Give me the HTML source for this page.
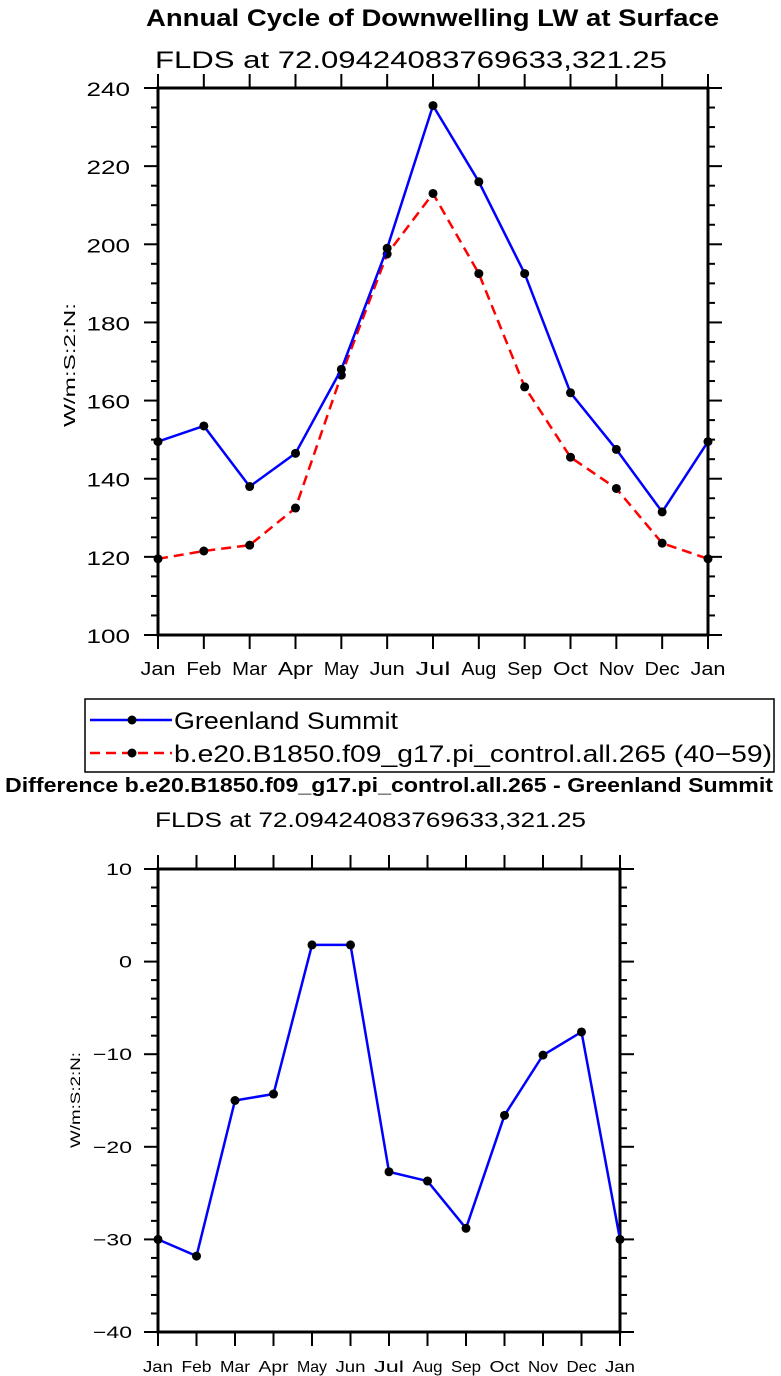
<!DOCTYPE html>
<html><head><meta charset="utf-8"><style>
body{margin:0;background:#fff;width:781px;height:1376px;overflow:hidden;font-family:"Liberation Sans",sans-serif}
svg{display:block}
</style></head><body>
<svg width="781" height="1376" font-family="Liberation Sans, sans-serif">
<text x="146" y="26" textLength="573" lengthAdjust="spacingAndGlyphs" font-size="24" font-weight="bold">Annual Cycle of Downwelling LW at Surface</text>
<text x="155" y="68" textLength="512" lengthAdjust="spacingAndGlyphs" font-size="24">FLDS at 72.09424083769633,321.25</text>
<text x="75" y="365" text-anchor="middle" font-size="16" textLength="124" lengthAdjust="spacingAndGlyphs" transform="rotate(-90 75 365)">W/m:S:2:N:</text>
<g id="top"></g>
<g>
<rect x="85" y="699" width="689" height="73" fill="none" stroke="#000" stroke-width="1.5"/>
<g>
<line x1="90" y1="720" x2="172" y2="720" stroke="#0000ff" stroke-width="2.5"/>
<circle cx="132" cy="720" r="4.5" fill="#000"/>
<text x="174" y="729" font-size="24" textLength="224" lengthAdjust="spacingAndGlyphs">Greenland Summit</text></g>
<g>
<line x1="90" y1="753" x2="172" y2="753" stroke="#ff0000" stroke-width="2.5" stroke-dasharray="10,6"/>
<circle cx="132" cy="753" r="4.5" fill="#000"/>
<text x="174" y="762" font-size="24" textLength="598" lengthAdjust="spacingAndGlyphs">b.e20.B1850.f09_g17.pi_control.all.265 (40−59)</text></g>
</g>
<text x="5" y="792" textLength="768" lengthAdjust="spacingAndGlyphs" font-size="20" font-weight="bold">Difference b.e20.B1850.f09_g17.pi_control.all.265 - Greenland Summit</text>
<text x="155" y="827" textLength="431" lengthAdjust="spacingAndGlyphs" font-size="21">FLDS at 72.09424083769633,321.25</text>
<text x="80" y="1100" text-anchor="middle" font-size="14" textLength="96" lengthAdjust="spacingAndGlyphs" transform="rotate(-90 80 1100)">W/m:S:2:N:</text>
<g id="bot"></g>
</svg>
<script>
const months=["Jan","Feb","Mar","Apr","May","Jun","Jul","Aug","Sep","Oct","Nov","Dec","Jan"];
const obsValues=[149.5,153.5,138,146.5,168,199,235.5,216,192.5,162,147.5,131.5,149.5];
const modelValues=[119.5,121.5,123,132.5,166.5,197.5,213,192.5,163.5,145.5,137.5,123.5,119.5];
const diffValues=[-30,-31.8,-15,-14.3,1.8,1.8,-22.7,-23.7,-28.8,-16.6,-10.1,-7.6,-30];
const topTicks=[100,120,140,160,180,200,220,240];
const botTicks=[-40,-30,-20,-10,0,10];
const NS="http://www.w3.org/2000/svg";
function mk(p,t,a){const e=document.createElementNS(NS,t);for(const k in a)e.setAttribute(k,a[k]);p.appendChild(e);return e;}
function plot(g,cfg){
  const {x0,x1,y0,y1,vmin,vmax,ticks,minor,series,yfs,ycw,ygap,ydy,xfs,xw}=cfg;
  const xs=i=>x0+(x1-x0)*i/12, ys=v=>y1-(v-vmin)/(vmax-vmin)*(y1-y0);
  const fr=mk(g,'rect',{x:x0,y:y0,width:x1-x0,height:y1-y0,fill:'none',stroke:'#000','stroke-width':3});
  
  for(let v=vmin;v<=vmax+1e-9;v+=minor){const y=ys(v);const maj=ticks.some(t=>Math.abs(t-v)<1e-6);const L=maj?14:7;
    mk(g,'line',{x1:x0-L,y1:y,x2:x0,y2:y,stroke:'#000','stroke-width':2});
    mk(g,'line',{x1:x1,y1:y,x2:x1+L,y2:y,stroke:'#000','stroke-width':2});}
  ticks.forEach(t=>{const s=String(t).replace('-','−');
    const e=mk(g,'text',{x:x0-ygap,y:ys(t)+ydy,'text-anchor':'end','font-size':yfs,textLength:s.length*ycw,lengthAdjust:'spacingAndGlyphs'});e.textContent=s;
    });
  months.forEach((m,i)=>{const x=xs(i);
    mk(g,'line',{x1:x,y1:y1,x2:x,y2:y1+14,stroke:'#000','stroke-width':2});
    mk(g,'line',{x1:x,y1:y0-14,x2:x,y2:y0,stroke:'#000','stroke-width':2});
    const e=mk(g,'text',{x:x,y:y1+40,'text-anchor':'middle','font-size':xfs,textLength:xw,lengthAdjust:'spacingAndGlyphs'});e.textContent=m;
    });
  series.forEach(s=>{
    const pl=mk(g,'polyline',{points:s.v.map((v,i)=>xs(i)+','+ys(v)).join(' '),fill:'none',stroke:s.c,'stroke-width':2.5,'stroke-dasharray':s.d||'none'});
    
    s.v.forEach((v,i)=>{const c=mk(g,'circle',{cx:xs(i),cy:ys(v),r:4.5,fill:'#000'});
      });
  });
}
plot(document.getElementById('top'),{x0:158,x1:708,y0:88,y1:635,vmin:100,vmax:240,ticks:topTicks,minor:5,yfs:19,ycw:14.5,ygap:28,ydy:8,xfs:18,xw:35,
  series:[{v:modelValues,c:'#ff0000',d:'10,6',n:'model'},{v:obsValues,c:'#0000ff',n:'greenland'}]});
plot(document.getElementById('bot'),{x0:158,x1:620,y0:869,y1:1332,vmin:-40,vmax:10,ticks:botTicks,minor:2,yfs:17,ycw:13,ygap:26,ydy:6,xfs:16,xw:30,
  series:[{v:diffValues,c:'#0000ff',n:'difference'}]});
</script>
</body></html>
